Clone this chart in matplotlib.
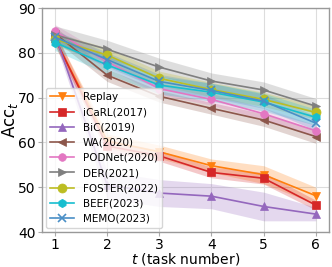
import matplotlib
matplotlib.use("Agg")
import matplotlib.pyplot as plt
import numpy as np

tasks = [1, 2, 3, 4, 5, 6]
xtick_labels = ["1", "2", "3", "4", "5", "6"]
ytick_vals = [40, 50, 60, 70, 80, 90]

methods = ["Replay", "iCaRL(2017)", "BiC(2019)", "WA(2020)", "PODNet(2020)",
           "DER(2021)", "FOSTER(2022)", "BEEF(2023)", "MEMO(2023)"]

replay = [83.0, 60.3, 57.9, 54.8, 52.8, 48.1]
icarl = [83.2, 59.2, 57.0, 53.3, 52.0, 46.0]
bic = [84.0, 50.5, 48.7, 48.0, 45.7, 44.0]
wa = [84.3, 75.0, 70.3, 67.6, 65.0, 61.3]
podnet = [84.8, 78.0, 72.0, 69.6, 66.4, 62.6]
der = [84.0, 80.8, 76.8, 73.7, 71.7, 68.1]
foster = [83.0, 79.5, 74.3, 71.8, 69.6, 66.7]
beef = [82.3, 77.3, 72.8, 71.2, 69.0, 65.6]
memo = [83.5, 78.5, 73.6, 71.6, 69.2, 64.3]

replay_std = [1.5, 1.6, 1.5, 1.5, 2.0, 1.9]
icarl_std = [1.5, 1.5, 1.2, 1.2, 1.3, 1.1]
bic_std = [1.5, 3.0, 3.0, 2.8, 3.2, 1.5]
wa_std = [1.5, 1.4, 1.3, 1.3, 1.4, 1.5]
podnet_std = [1.5, 1.4, 1.3, 1.3, 1.3, 1.3]
der_std = [2.0, 2.0, 2.0, 1.8, 1.8, 1.7]
foster_std = [1.5, 1.6, 1.6, 1.6, 1.6, 1.5]
beef_std = [1.8, 2.0, 2.0, 2.0, 2.0, 1.8]
memo_std = [1.5, 1.6, 1.6, 1.6, 1.6, 1.6]

series = [replay, icarl, bic, wa, podnet, der, foster, beef, memo]
stds = [replay_std, icarl_std, bic_std, wa_std, podnet_std, der_std, foster_std, beef_std, memo_std]
colors = ["tab:orange", "tab:red", "tab:purple", "tab:brown", "tab:pink",
          "tab:gray", "tab:olive", "tab:cyan", "#4a8fc6"]
markers = ["v", "s", "^", "<", "o", ">", "o", "h", "x"]
msizes = [5.5, 5.5, 5.5, 5.5, 5.5, 5.5, 6.5, 6, 6]

fig = plt.figure(figsize=(3.32, 2.67), dpi=100)
ax = fig.add_axes([0.1265, 0.131, 0.864, 0.839])

for name, y, s, c, m, ms in zip(methods, series, stds, colors, markers, msizes):
    y = np.array(y)
    s = np.array(s)
    ax.fill_between(tasks, y - s, y + s, color=c, alpha=0.25, linewidth=0)
    ax.plot(tasks, y, color=c, marker=m, markersize=ms, linewidth=1.2,
            label=name, markeredgewidth=1.2 if m == "x" else 0.5)

ax.set_ylim(40, 90)
ax.set_xlim(0.75, 6.25)
ax.set_xticks(tasks)
ax.set_xticklabels(xtick_labels)
ax.set_yticks(ytick_vals)
ax.tick_params(labelsize=10, length=3, color="#aaaaaa", pad=1.5)
ax.grid(True, color="#dddddd", linewidth=0.8)
ax.set_axisbelow(True)
for sp in ax.spines.values():
    sp.set_color("#999999")
    sp.set_linewidth(1.0)

ax.set_xlabel("$t$ (task number)", fontsize=10, labelpad=-1)
ax.set_ylabel("Acc$_t$", fontsize=12, labelpad=-1)

ax.legend(loc="lower left", fontsize=7.5, framealpha=0.8, borderaxespad=0.4,
          labelspacing=0.5, handlelength=2.3)

fig.savefig("out.png", dpi=100)
